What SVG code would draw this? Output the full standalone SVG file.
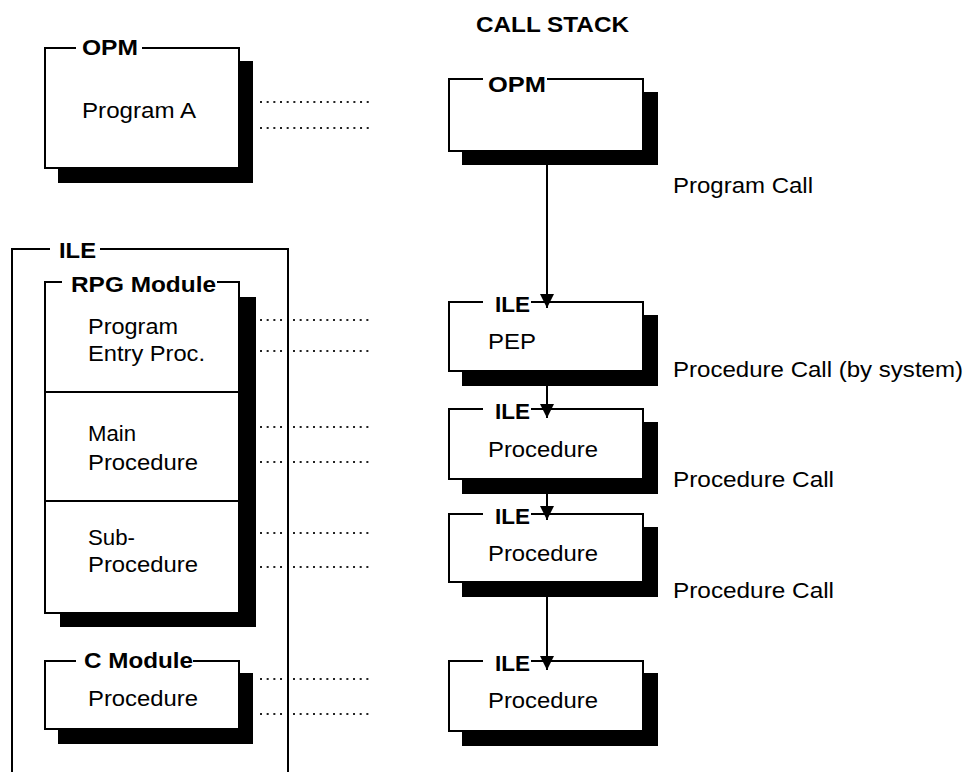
<svg xmlns="http://www.w3.org/2000/svg" width="966" height="772" viewBox="0 0 966 772">
<defs>
<style>
.frame{fill:#fff;stroke:#000;stroke-width:2}
.edge{fill:none;stroke:#000;stroke-width:2}
.shadow{fill:#000}
.lbl{font-family:"Liberation Sans",Arial,sans-serif;font-size:22px;font-weight:bold;fill:#000}
.txt{font-family:"Liberation Sans",Arial,sans-serif;font-size:22px;fill:#000}
.dot{fill:none;stroke:#222;stroke-width:2;stroke-dasharray:2 4.67}
.conn{fill:none;stroke:#000;stroke-width:2}
</style>
<marker id="arr" markerUnits="userSpaceOnUse" markerWidth="14" markerHeight="14" refX="14" refY="7" orient="auto">
<path d="M0,0 L14,7 L0,14 z" fill="#000"/>
</marker>
</defs>
<rect width="966" height="772" fill="#fff"/>

<text id="title" class="lbl" x="476" y="32" textLength="153" lengthAdjust="spacingAndGlyphs">CALL STACK</text>

<g id="ile-outer">
<path class="edge" d="M12,773 L12,249 L50,249 M100,249 L288,249 L288,773"/>
<text class="lbl" x="59" y="258" textLength="37" lengthAdjust="spacingAndGlyphs">ILE</text>
</g>

<g id="opm-program-a">
<rect class="shadow" x="58" y="61" width="195" height="122"/>
<rect x="45" y="48" width="194" height="120" fill="#fff"/>
<path class="edge" d="M76,48 L45,48 L45,168 L239,168 L239,48 L142,48"/>
<text class="lbl" x="82" y="55" textLength="56" lengthAdjust="spacingAndGlyphs">OPM</text>
<text class="txt" x="82" y="118" textLength="114" lengthAdjust="spacingAndGlyphs">Program A</text>
</g>

<g id="rpg-module">
<rect class="shadow" x="60" y="297" width="196" height="330"/>
<rect x="45" y="282" width="194" height="331" fill="#fff"/>
<path class="edge" d="M62,282 L45,282 L45,613 L239,613 L239,282 L217,282 M45,392 L239,392 M45,501 L239,501"/>
<text class="lbl" x="71" y="292" textLength="145" lengthAdjust="spacingAndGlyphs">RPG Module</text>
<text class="txt" x="88" y="334" textLength="90" lengthAdjust="spacingAndGlyphs">Program</text>
<text class="txt" x="88" y="361" textLength="117" lengthAdjust="spacingAndGlyphs">Entry Proc.</text>
<text class="txt" x="88" y="441" textLength="48" lengthAdjust="spacingAndGlyphs">Main</text>
<text class="txt" x="88" y="470" textLength="110" lengthAdjust="spacingAndGlyphs">Procedure</text>
<text class="txt" x="88" y="545" textLength="47" lengthAdjust="spacingAndGlyphs">Sub-</text>
<text class="txt" x="88" y="572" textLength="110" lengthAdjust="spacingAndGlyphs">Procedure</text>
</g>

<g id="c-module">
<rect class="shadow" x="58" y="673" width="195" height="71"/>
<rect x="45" y="661" width="194" height="68" fill="#fff"/>
<path class="edge" d="M76,661 L45,661 L45,729 L239,729 L239,661 L193,661"/>
<text class="lbl" x="84" y="668" textLength="109" lengthAdjust="spacingAndGlyphs">C Module</text>
<text class="txt" x="88" y="706" textLength="110" lengthAdjust="spacingAndGlyphs">Procedure</text>
</g>

<g id="stack-opm">
<rect class="shadow" x="462" y="92" width="196" height="73"/>
<rect x="449" y="79" width="194" height="72" fill="#fff"/>
<path class="edge" d="M483,79 L449,79 L449,151 L643,151 L643,79 L547,79"/>
<text class="lbl" x="488" y="92" textLength="58" lengthAdjust="spacingAndGlyphs">OPM</text>
</g>

<g id="stack-pep">
<rect class="shadow" x="462" y="315" width="196" height="71"/>
<rect x="449" y="302" width="194" height="69" fill="#fff"/>
<path class="edge" d="M483,302 L449,302 L449,371 L643,371 L643,302 L531,302"/>
<text class="lbl" x="495" y="312" textLength="35" lengthAdjust="spacingAndGlyphs">ILE</text>
<text class="txt" x="488" y="349" textLength="48" lengthAdjust="spacingAndGlyphs">PEP</text>
</g>

<g id="stack-proc1">
<rect class="shadow" x="462" y="422" width="196" height="72"/>
<rect x="449" y="409" width="194" height="70" fill="#fff"/>
<path class="edge" d="M483,409 L449,409 L449,479 L643,479 L643,409 L531,409"/>
<text class="lbl" x="495" y="419" textLength="35" lengthAdjust="spacingAndGlyphs">ILE</text>
<text class="txt" x="488" y="457" textLength="110" lengthAdjust="spacingAndGlyphs">Procedure</text>
</g>

<g id="stack-proc2">
<rect class="shadow" x="462" y="527" width="196" height="70"/>
<rect x="449" y="514" width="194" height="68" fill="#fff"/>
<path class="edge" d="M483,514 L449,514 L449,582 L643,582 L643,514 L531,514"/>
<text class="lbl" x="495" y="524" textLength="35" lengthAdjust="spacingAndGlyphs">ILE</text>
<text class="txt" x="488" y="561" textLength="110" lengthAdjust="spacingAndGlyphs">Procedure</text>
</g>

<g id="stack-proc3">
<rect class="shadow" x="462" y="673" width="196" height="73"/>
<rect x="449" y="661" width="194" height="70" fill="#fff"/>
<path class="edge" d="M483,661 L449,661 L449,731 L643,731 L643,661 L531,661"/>
<text class="lbl" x="495" y="671" textLength="35" lengthAdjust="spacingAndGlyphs">ILE</text>
<text class="txt" x="488" y="708" textLength="110" lengthAdjust="spacingAndGlyphs">Procedure</text>
</g>

<g id="connectors">
<path class="conn" d="M547,165 L547,308" marker-end="url(#arr)"/>
<path class="conn" d="M547,386 L547,418" marker-end="url(#arr)"/>
<path class="conn" d="M547,494 L547,520" marker-end="url(#arr)"/>
<path class="conn" d="M547,597 L547,670" marker-end="url(#arr)"/>
<path class="dot" d="M260,102 L370,102 M260,128 L370,128"/>
<path class="dot" d="M260,320 L284,320 M293,320 L370,320 M260,351 L284,351 M293,351 L370,351"/>
<path class="dot" d="M260,427 L284,427 M293,427 L370,427 M260,462 L284,462 M293,462 L370,462"/>
<path class="dot" d="M260,533 L284,533 M293,533 L370,533 M260,567 L284,567 M293,567 L370,567"/>
<path class="dot" d="M260,679 L284,679 M293,679 L370,679 M260,714 L284,714 M293,714 L370,714"/>
</g>

<g id="edge-labels">
<text class="txt" x="673" y="193" textLength="140" lengthAdjust="spacingAndGlyphs">Program Call</text>
<text class="txt" x="673" y="377" textLength="290" lengthAdjust="spacingAndGlyphs">Procedure Call (by system)</text>
<text class="txt" x="673" y="487" textLength="161" lengthAdjust="spacingAndGlyphs">Procedure Call</text>
<text class="txt" x="673" y="598" textLength="161" lengthAdjust="spacingAndGlyphs">Procedure Call</text>
</g>
</svg>
